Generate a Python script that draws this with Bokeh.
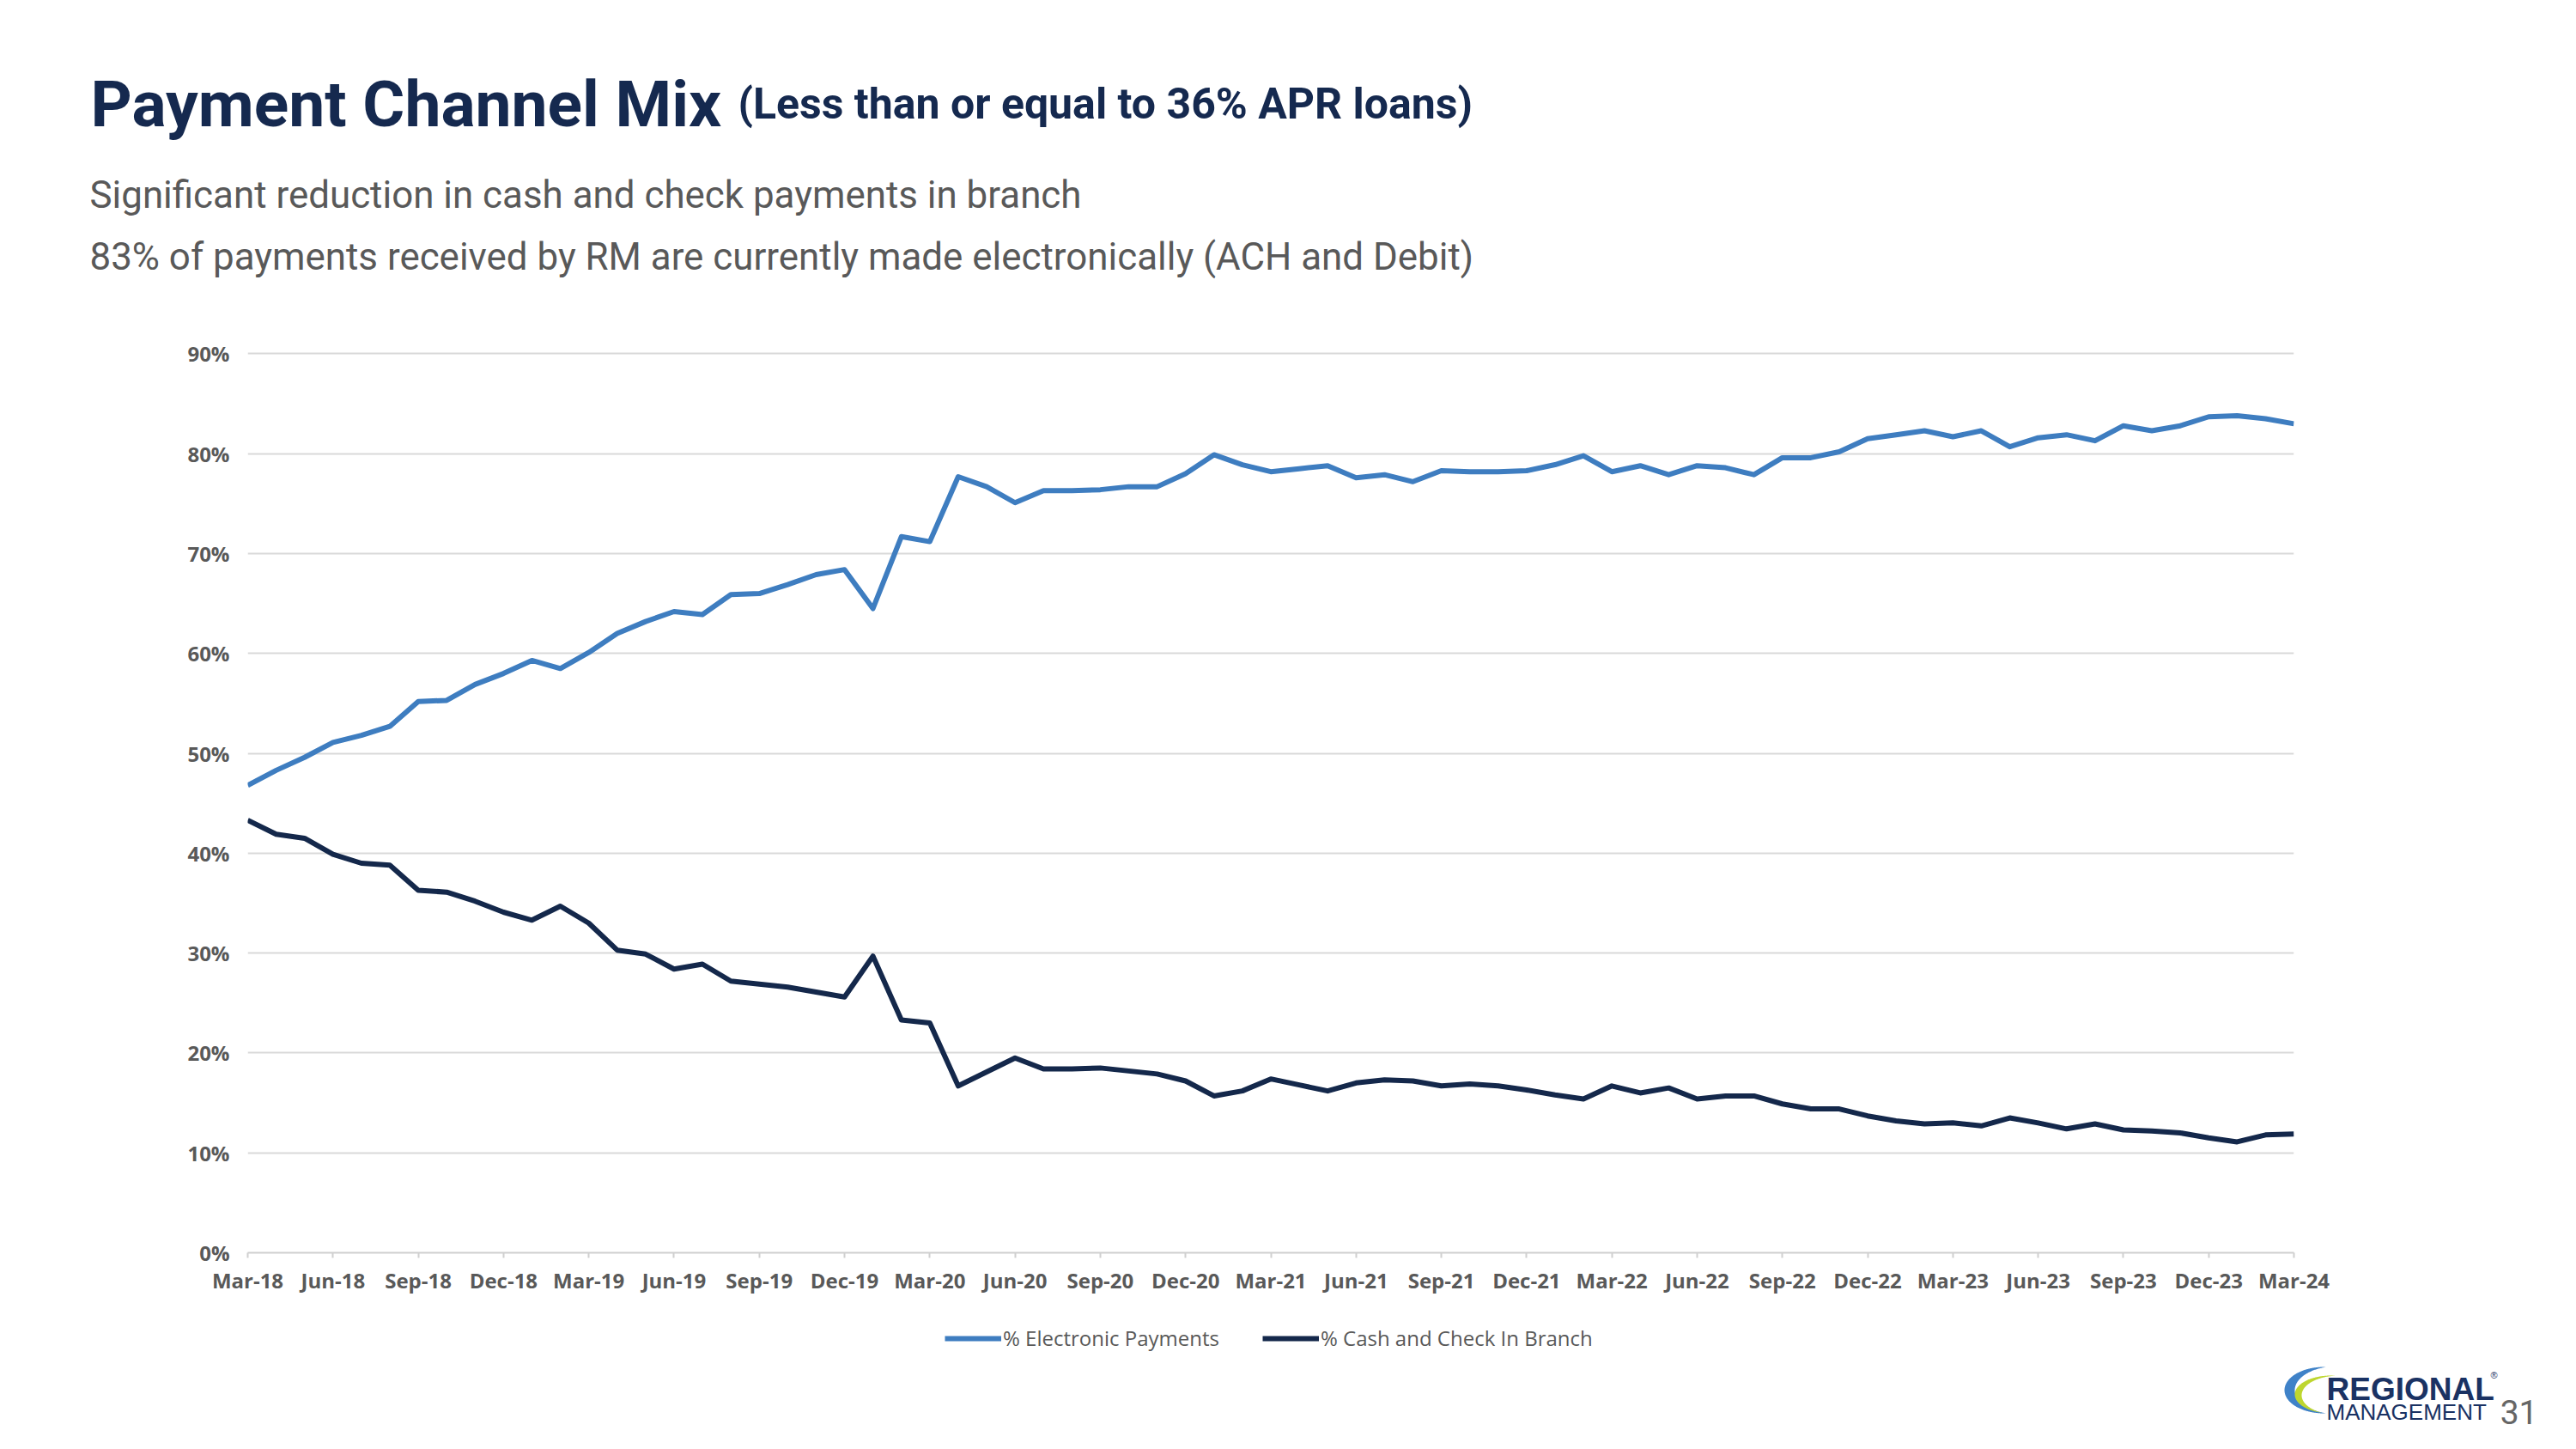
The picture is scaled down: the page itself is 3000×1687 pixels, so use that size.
import numpy as np
from bokeh.plotting import figure
from bokeh.layouts import column
from bokeh.models import (Range1d, FixedTicker, NumeralTickFormatter, Label,
                          Legend, LegendItem, ColumnDataSource)
from bokeh.embed import file_html
from bokeh.resources import INLINE

# ---------------- data ----------------
quarter_labels = ["Mar-18", "Jun-18", "Sep-18", "Dec-18",
                  "Mar-19", "Jun-19", "Sep-19", "Dec-19",
                  "Mar-20", "Jun-20", "Sep-20", "Dec-20",
                  "Mar-21", "Jun-21", "Sep-21", "Dec-21",
                  "Mar-22", "Jun-22", "Sep-22", "Dec-22",
                  "Mar-23", "Jun-23", "Sep-23", "Dec-23", "Mar-24"]

# monthly values, Mar-18 .. Mar-24 (percent)
electronic_pct = [
    46.8, 48.3, 49.6, 51.1, 51.8, 52.7, 55.2, 55.3, 56.9, 58.0, 59.3, 58.5,
    60.1, 62.0, 63.2, 64.2, 63.9, 65.9, 66.0, 66.9, 67.9, 68.4, 64.5, 71.7,
    71.2, 77.7, 76.7, 75.1, 76.3, 76.3, 76.4, 76.7, 76.7, 78.0, 79.9, 78.9,
    78.2, 78.5, 78.8, 77.6, 77.9, 77.2, 78.3, 78.2, 78.2, 78.3, 78.9, 79.8,
    78.2, 78.8, 77.9, 78.8, 78.6, 77.9, 79.6, 79.6, 80.2, 81.5, 81.9, 82.3,
    81.7, 82.3, 80.7, 81.6, 81.9, 81.3, 82.8, 82.3, 82.8, 83.7, 83.8, 83.5,
    83.0]
cash_pct = [
    43.3, 41.9, 41.5, 39.9, 39.0, 38.8, 36.3, 36.1, 35.2, 34.1, 33.3, 34.7,
    33.0, 30.3, 29.9, 28.4, 28.9, 27.2, 26.9, 26.6, 26.1, 25.6, 29.7, 23.3,
    23.0, 16.7, 18.1, 19.5, 18.4, 18.4, 18.5, 18.2, 17.9, 17.2, 15.7, 16.2,
    17.4, 16.8, 16.2, 17.0, 17.3, 17.2, 16.7, 16.9, 16.7, 16.3, 15.8, 15.4,
    16.7, 16.0, 16.5, 15.4, 15.7, 15.7, 14.9, 14.4, 14.4, 13.7, 13.2, 12.9,
    13.0, 12.7, 13.5, 13.0, 12.4, 12.9, 12.3, 12.2, 12.0, 11.5, 11.1, 11.8,
    11.9]

series_names = ["% Electronic Payments", "% Cash and Check In Branch"]
y_ticks = [0, 0.1, 0.2, 0.3, 0.4, 0.5, 0.6, 0.7, 0.8, 0.9]

month_index = list(range(len(electronic_pct)))
src = ColumnDataSource(dict(
    x=month_index,
    elec=[v / 100 for v in electronic_pct],
    cash=[v / 100 for v in cash_pct],
))

# ---------------- styles ----------------
C_ELEC = "#3E7DC0"
C_CASH = "#14284B"
C_TITLE = "#15294F"
C_LOGO = "#1A3263"
C_GRAY = "#595959"
LINE_W = 6

W, H = 2984, 1671
H_HEAD = 380                 # canvas y 0..380
H_FOOT = 141                 # canvas y 1530..1671
H_CHART = H - H_HEAD - H_FOOT
FRAME_TOP, FRAME_BOTTOM = 408, 1458
FL, FR = 288, 313


def no_align(f):
    try:
        f.frame_align = False
    except Exception:
        pass


def blank(height, y0):
    f = figure(width=W, height=height, output_backend="svg",
               toolbar_location=None, x_axis_type=None, y_axis_type=None,
               x_range=Range1d(0, W), y_range=Range1d(y0 + height, y0),
               min_border=0)
    f.outline_line_color = None
    f.grid.visible = False
    f.background_fill_color = "white"
    f.border_fill_color = "white"
    no_align(f)
    return f


def add_text(f, text, x, y, size, color, font="Roboto", style="normal",
             align="left"):
    f.add_layout(Label(x=x, y=y, text=text, text_font=font,
                       text_font_size=f"{size}px", text_font_style=style,
                       text_color=color, text_align=align,
                       text_baseline="alphabetic"))


# ---------------- header ----------------
head = blank(H_HEAD, 0)
add_text(head, "Payment Channel Mix", 105, 120, 75, C_TITLE, style="bold")
add_text(head, "(Less than or equal to 36% APR loans)", 859, 120, 50,
         C_TITLE, style="bold")
add_text(head, "Significant reduction in cash and check payments in branch",
         104, 226, 43.9, C_GRAY)
add_text(head, "83% of payments received by RM are currently made "
               "electronically (ACH and Debit)", 104, 298, 43.9, C_GRAY)

# ---------------- chart ----------------
p = figure(width=W, height=H_CHART, output_backend="svg",
           toolbar_location=None,
           x_range=Range1d(0, len(month_index) - 1),
           y_range=Range1d(0, 0.903),
           min_border_left=FL, min_border_right=FR,
           min_border_top=FRAME_TOP - H_HEAD,
           min_border_bottom=H_HEAD + H_CHART - FRAME_BOTTOM)
no_align(p)
p.outline_line_color = None
p.background_fill_color = "white"
p.border_fill_color = "white"

p.line("x", "elec", source=src, line_color=C_ELEC, line_width=LINE_W,
       line_join="round")
p.line("x", "cash", source=src, line_color=C_CASH, line_width=LINE_W,
       line_join="round")

qpos = [i * 3 for i in range(len(quarter_labels))]
p.xaxis.ticker = FixedTicker(ticks=qpos)
p.xaxis.major_label_overrides = {q: lab for q, lab in zip(qpos, quarter_labels)}
p.xaxis.axis_line_color = "#D0D0D0"
p.xaxis.axis_line_width = 2
p.xaxis.major_tick_line_color = "#D0D0D0"
p.xaxis.major_tick_line_width = 2
p.xaxis.major_tick_out = 6
p.xaxis.major_tick_in = 0
p.xaxis.minor_tick_line_color = None
p.xaxis.major_label_text_font = "Open Sans"
p.xaxis.major_label_text_font_style = "bold"
p.xaxis.major_label_text_font_size = "24px"
p.xaxis.major_label_text_color = C_GRAY
p.xaxis.major_label_standoff = 9

p.yaxis.ticker = FixedTicker(ticks=y_ticks)
p.yaxis.formatter = NumeralTickFormatter(format="0%")
p.yaxis.axis_line_color = None
p.yaxis.major_tick_line_color = None
p.yaxis.minor_tick_line_color = None
p.yaxis.major_label_text_font = "Open Sans"
p.yaxis.major_label_text_font_style = "bold"
p.yaxis.major_label_text_font_size = "24px"
p.yaxis.major_label_text_color = C_GRAY
p.yaxis.major_label_standoff = 15

p.xgrid.grid_line_color = None
p.ygrid.grid_line_color = "#D9D9D9"
p.ygrid.grid_line_width = 2

# ---------------- footer: legend, logo, page number ----------------
foot = blank(H_FOOT, H - H_FOOT)

# legend keys: the same series drawn in the footer, where they fall outside
# the visible range, so only their legend swatches show
k1 = foot.line("x", "elec", source=src, line_color=C_ELEC, line_width=LINE_W)
k2 = foot.line("x", "cash", source=src, line_color=C_CASH, line_width=LINE_W)
legend = Legend(items=[LegendItem(label=series_names[0], renderers=[k1]),
                       LegendItem(label=series_names[1], renderers=[k2])],
                orientation="horizontal", location=(1100, 97),
                border_line_color=None, background_fill_alpha=0,
                glyph_width=66, glyph_height=20, label_standoff=2,
                spacing=50, padding=2, margin=0,
                label_text_font="Open Sans", label_text_font_size="24px",
                label_text_color=C_GRAY)
foot.add_layout(legend, "center")


def crescent(c1, r1_, c2, r2_, n=400):
    t = np.linspace(0, 2 * np.pi, n, endpoint=False)
    ox, oy = c1[0] + r1_[0] * np.cos(t), c1[1] + r1_[1] * np.sin(t)
    keep_o = ((ox - c2[0]) / r2_[0]) ** 2 + ((oy - c2[1]) / r2_[1]) ** 2 > 1
    ix, iy = c2[0] + r2_[0] * np.cos(t), c2[1] + r2_[1] * np.sin(t)
    keep_i = ((ix - c1[0]) / r1_[0]) ** 2 + ((iy - c1[1]) / r1_[1]) ** 2 < 1
    xs = np.concatenate([ox[keep_o], ix[keep_i][::-1]])
    ys = np.concatenate([oy[keep_o], iy[keep_i][::-1]])
    return xs, ys


bx, by = crescent((2706, 1618), (46, 27), (2722, 1618), (50, 28))
gx, gy = crescent((2714, 1623), (42, 22), (2724, 1624), (44, 23))
foot.patch(bx, by, fill_color="#3F82C8", line_color=None)
foot.patch(gx, gy, fill_color="#BED62F", line_color=None)
add_text(foot, "REGIONAL", 2709, 1617, 37, C_LOGO, font="Liberation Sans",
         style="bold")
add_text(foot, "®", 2900, 1600, 11, C_LOGO, font="Liberation Sans")
add_text(foot, "MANAGEMENT", 2709, 1643, 26, C_LOGO, font="Liberation Sans")
add_text(foot, "31", 2955, 1643, 39, "#666666", align="right")

layout = column(head, p, foot, spacing=0)
open("out.html", "w").write(file_html(layout, INLINE))
